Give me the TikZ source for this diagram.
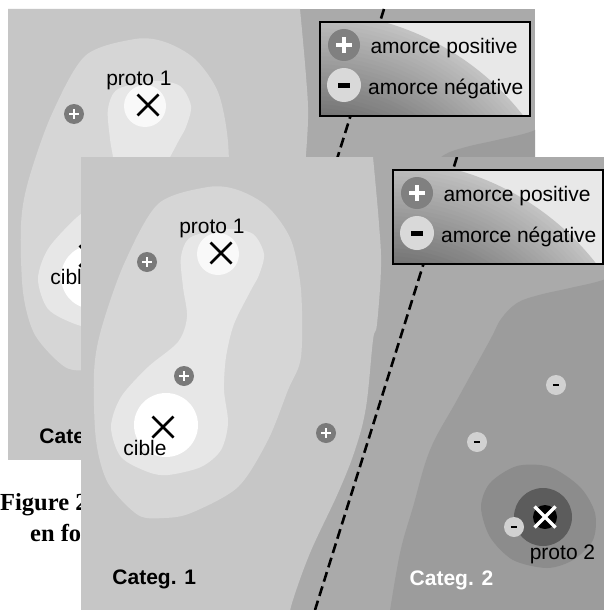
\documentclass[tikz,border=0pt]{standalone}
\usepackage{fontspec}
\setmainfont{Liberation Sans}
\newfontfamily\capfont{Liberation Serif}

% grey levels of the similarity map
\definecolor{catone}{gray}{0.776}
\definecolor{halo}{gray}{0.839}
\definecolor{core}{gray}{0.906}
\definecolor{protowhite}{gray}{0.975}
\definecolor{midzone}{gray}{0.667}
\definecolor{deepzone}{gray}{0.612}
\definecolor{protoring}{gray}{0.55}
\definecolor{protocore}{gray}{0.36}
\definecolor{plusfill}{gray}{0.48}
\definecolor{minusfill}{gray}{0.82}
\definecolor{keyplus}{gray}{0.50}
\definecolor{keyminus}{gray}{0.85}
\definecolor{legendbg}{gray}{0.91}
\definecolor{glowin}{gray}{0.45}
\definecolor{glowout}{gray}{0.76}

\tikzset{
  lbl/.style={font=\fontsize{21}{25}\selectfont, inner sep=0pt, anchor=base},
  catlbl/.style={lbl, font=\fontsize{21}{25}\selectfont\bfseries},
  keylbl/.style={lbl, anchor=base west},
  capt/.style={font=\capfont\bfseries\fontsize{24.5}{28}\selectfont, inner sep=0pt, anchor=base west},
  crossline/.style={line width=2.6pt},
  boundary/.style={line width=2.6pt, dash pattern=on 10pt off 5pt},
  plusmark/.pic={
    \fill[plusfill] (0,0) circle (10);
    \draw[white, line width=2.7pt] (-4.8,0) -- (4.8,0) (0,-4.8) -- (0,4.8);
  },
  minusmark/.pic={
    \fill[minusfill] (0,0) circle (10);
    \draw[black, line width=2.5pt] (-3.2,0) -- (3.2,0);
  },
  xmark/.pic={
    \draw[crossline] (-10.5,-10.5) -- (10.5,10.5) (-10.5,10.5) -- (10.5,-10.5);
  }
}

% one sheet of the map; #1 shift of the target, #2 baseline of the category labels, #3 name prefix
\newcommand\mapsheet[3]{%
  \fill[midzone] (0,0) rectangle (527,460);
  \fill[catone] (0,0) -- plot[smooth,tension=0.6] coordinates {(292,0) (298,67) (300,110) (296,167) (292,183) (285,250) (274,293) (257,336) (229,396) (211,446) (209,460)} -- (0,460) -- cycle;
  \fill[deepzone] plot[smooth,tension=0.6] coordinates {(545,112) (522,123) (489,131) (458,138) (436,146) (420,162) (409,183) (376,243) (349,293) (332,350) (319,396) (308,460)} -- (545,460) -- cycle;
  \fill[halo] plot[smooth cycle] coordinates {(127,30) (157,33) (187,50) (210,83) (220,133) (220,200) (207,233) (187,283) (157,330) (110,356) (83,361) (57,358) (27,326) (15,283) (13,216) (20,173) (43,107) (77,47)};
  \fill[core] plot[smooth cycle] coordinates {(147,72) (172,77) (183,97) (178,118) (170,133) (153,167) (145,200) (143,233) (147,266) (140,293) (120,310) (87,318) (67,315) (40,300) (30,270) (40,240) (67,210) (97,185) (106,160) (102,130) (100,100) (110,80)};
  \fill[white] (85,268) circle (32);
  \fill[protowhite] (137,97) circle (21);
  % prototype of the second category
  \fill[protoring] plot[smooth cycle] coordinates {(400,350) (409,326) (436,309) (469,310) (499,330) (514,356) (512,383) (492,403) (466,411) (432,403) (409,380)};
  \fill[protocore] (462,360) circle (29);
  \fill[black] (464,360) circle (12);
  % category boundary
  \draw[boundary] (376,0) -- (234,453);
  % primes
  \pic at (66,105) {plusmark};
  \pic at (103,219) {plusmark};
  \pic at (245,276) {plusmark};
  \pic at (396,285) {minusmark};
  \pic at (475,228) {minusmark};
  \pic at (433,370) {minusmark};
  % prototypes and target
  \pic at (140,96) {xmark};
  \pic at (82,{270+#1}) {xmark};
  \draw[white, line width=3.4pt] (453.5,349.5) -- (474.5,370.5) (453.5,370.5) -- (474.5,349.5);
  \node[lbl] (#3protoA) at (131,76) {proto 1};
  \node[lbl] (#3target) at (64,{298+#1}) {cible};
  \node[lbl] (#3protoB) at (481.5,402) {proto 2};
  \node[catlbl] (#3catA) at (73.3,#2) {Categ. 1};
  \node[catlbl, text=white] (#3catB) at (370.5,{#2+1}) {Categ. 2};
  % key, with its darkening glow towards the lower left corner
  \begin{scope}
    \clip (312,13) rectangle (522,107);
    \fill[legendbg] (312,13) rectangle (522,107);
    \foreach \k in {0,...,26} {
      \pgfmathtruncatemacro\mixv{100-\k*100/26}
      \fill[glowout!\mixv!glowin] (303,272) circle ({269-4*\k});
    }
  \end{scope}
  \draw[line width=1.3pt] (312,13) rectangle (522,107);
  \fill[keyplus] (336,36) circle (16);
  \draw[white, line width=4pt] (328.2,36) -- (343.8,36) (336,28.2) -- (336,43.8);
  \fill[keyminus] (336,76) circle (17);
  \draw[black, line width=4.8pt] (330.2,76.5) -- (341.8,76.5);
  \node[keylbl] (#3keyplus) at (362.3,44.7) {amorce positive};
  \node[keylbl] (#3keyminus) at (360,85.7) {amorce négative};
}

\begin{document}
\begin{tikzpicture}[x=1pt,y=-1pt]
  \useasboundingbox (0,0) rectangle (603,610);
  \fill[white] (0,0) rectangle (603,610);
  % sheet behind
  \begin{scope}[shift={(8,9)}]
    \clip (0,0) rectangle (527,450);
    \mapsheet{-23}{434}{back}
  \end{scope}
  % caption below the sheet behind
  \node[capt] (figline) at (0,510) {Figure 2};
  \node[capt] (enline) at (30,541.7) {en fo};
  % sheet in front
  \begin{scope}[shift={(81,157)}]
    \clip (0,0) rectangle (527,453);
    \mapsheet{0}{427}{front}
  \end{scope}
\end{tikzpicture}
\end{document}
